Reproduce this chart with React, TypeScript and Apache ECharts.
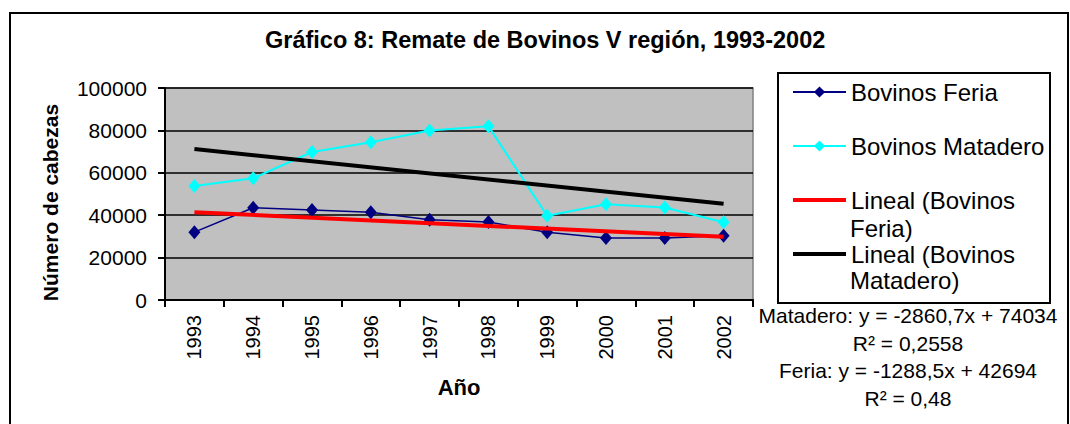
import React, { useEffect, useRef } from "react";
import * as echarts from "echarts";

const years = ["1993", "1994", "1995", "1996", "1997", "1998", "1999", "2000", "2001", "2002"];
const feria = [32000, 43500, 42500, 41400, 37800, 36800, 32000, 29300, 29300, 30300];
const matadero = [53800, 57400, 69800, 74400, 80000, 82000, 39700, 45200, 43600, 36700];
// Trend line end points (1993, 2002), as drawn in the reference
const trendFeriaEnds = [41400, 29800];
const trendMataderoEnds = [71200, 45400];
const yTicks = { min: 0, max: 100000, interval: 20000 };
const seriesNames = ["Bovinos Feria", "Bovinos Matadero", "Lineal (Bovinos Feria)", "Lineal (Bovinos Matadero)"];
const equations = ["Matadero: y = -2860,7x + 74034", "R² = 0,2558", "Feria: y = -1288,5x + 42694", "R² = 0,48"];

const FONT = "'Liberation Sans', Arial, sans-serif";
const BAR_ICON = "path://M0,0H53V4H0Z";

export default function App() {
  const ref = useRef<HTMLDivElement>(null);
  useEffect(() => {
    if (!ref.current) return;
    const chart = echarts.init(ref.current, undefined, { renderer: "svg" });
    const first = years[0];
    const last = years[years.length - 1];
    chart.setOption({
      animation: false,
      textStyle: { fontFamily: FONT },
      title: {
        text: "Gráfico 8: Remate de Bovinos V región, 1993-2002",
        left: 265,
        top: 28,
        padding: 0,
        textStyle: { fontFamily: FONT, fontSize: 23.5, fontWeight: "bold", color: "#000" },
      },
      graphic: [
        {
          type: "rect",
          shape: { x: 10, y: 13, width: 1058, height: 430 },
          style: { fill: "#fff", stroke: "#000", lineWidth: 2 },
          z: -10,
          silent: true,
        },
        {
          type: "rect",
          shape: { x: 778, y: 73, width: 272, height: 230 },
          style: { fill: "#fff", stroke: "#000", lineWidth: 2 },
          z: 0,
          silent: true,
        },
        {
          type: "text",
          x: 850,
          y: 228,
          style: { text: "Feria)", fontFamily: FONT, fontSize: 24, fill: "#000", verticalAlign: "middle" },
          z: 5,
        },
        {
          type: "text",
          x: 850,
          y: 280,
          style: { text: "Matadero)", fontFamily: FONT, fontSize: 24, fill: "#000", verticalAlign: "middle" },
          z: 5,
        },
        ...equations.map((t, i) => ({
          type: "text",
          x: 908,
          y: [315, 343, 370, 398][i],
          style: { text: t, fontFamily: FONT, fontSize: 21, fill: "#000", align: "center", verticalAlign: "middle" },
          z: 5,
        })),
      ],
      legend: {
        left: 792,
        top: 79,
        orient: "vertical",
        itemWidth: 53,
        itemHeight: 14,
        itemGap: 28,
        padding: 0,
        symbolKeepAspect: true,
        data: [
          { name: seriesNames[0] },
          { name: seriesNames[1] },
          { name: seriesNames[2], icon: BAR_ICON },
          { name: seriesNames[3], icon: BAR_ICON },
        ],
        formatter: (name: string) => (name.startsWith("Lineal") ? "Lineal (Bovinos" : name),
        textStyle: { fontFamily: FONT, fontSize: 24, lineHeight: 26, color: "#000" },
      },
      grid: {
        left: 165,
        top: 88,
        right: 317,
        bottom: 124,
        show: true,
        backgroundColor: "#C0C0C0",
        borderColor: "#808080",
        borderWidth: 1.5,
      },
      xAxis: {
        type: "category",
        data: years,
        boundaryGap: true,
        name: "Año",
        nameLocation: "middle",
        nameGap: 76,
        nameTextStyle: { fontFamily: FONT, fontSize: 22, fontWeight: "bold", color: "#000" },
        axisLine: { lineStyle: { color: "#000", width: 2 } },
        axisTick: { show: true, length: 7, interval: 0, lineStyle: { color: "#000", width: 2 } },
        axisLabel: { rotate: 90, interval: 0, margin: 15, fontFamily: FONT, fontSize: 20, color: "#000" },
        splitLine: { show: false },
      },
      yAxis: {
        type: "value",
        min: yTicks.min,
        max: yTicks.max,
        interval: yTicks.interval,
        name: "Número de cabezas",
        nameLocation: "middle",
        nameRotate: 90,
        nameGap: 104,
        nameTextStyle: {
          fontFamily: FONT,
          fontSize: 21,
          fontWeight: "bold",
          color: "#000",
          padding: [0, 17, 0, 0],
        },
        axisLine: { show: true, lineStyle: { color: "#000", width: 2 } },
        axisTick: { show: true, length: 7, lineStyle: { color: "#000", width: 2 } },
        axisLabel: {
          margin: 18,
          fontFamily: FONT,
          fontSize: 21,
          color: "#000",
          formatter: (v: number) => String(v),
        },
        splitLine: { show: true, lineStyle: { color: "#000", width: 1.5 } },
      },
      series: [
        {
          name: seriesNames[0],
          type: "line",
          data: feria,
          symbol: "diamond",
          symbolSize: [12, 14],
          itemStyle: { color: "#000080" },
          lineStyle: { color: "#000080", width: 1.5 },
          z: 3,
        },
        {
          name: seriesNames[1],
          type: "line",
          data: matadero,
          symbol: "diamond",
          symbolSize: [12, 14],
          itemStyle: { color: "#00FFFF" },
          lineStyle: { color: "#00FFFF", width: 2 },
          z: 3,
        },
        {
          name: seriesNames[2],
          type: "line",
          data: [[first, trendFeriaEnds[0]], [last, trendFeriaEnds[1]]],
          symbol: "none",
          itemStyle: { color: "#FF0000" },
          lineStyle: { color: "#FF0000", width: 4 },
          z: 4,
        },
        {
          name: seriesNames[3],
          type: "line",
          data: [[first, trendMataderoEnds[0]], [last, trendMataderoEnds[1]]],
          symbol: "none",
          itemStyle: { color: "#000" },
          lineStyle: { color: "#000", width: 4 },
          z: 4,
        },
      ],
    });
    return () => chart.dispose();
  }, []);
  return (
    <div
      ref={ref}
      style={{ position: "fixed", left: 0, top: 0, width: 1070, height: 424, background: "#fff" }}
    />
  );
}
